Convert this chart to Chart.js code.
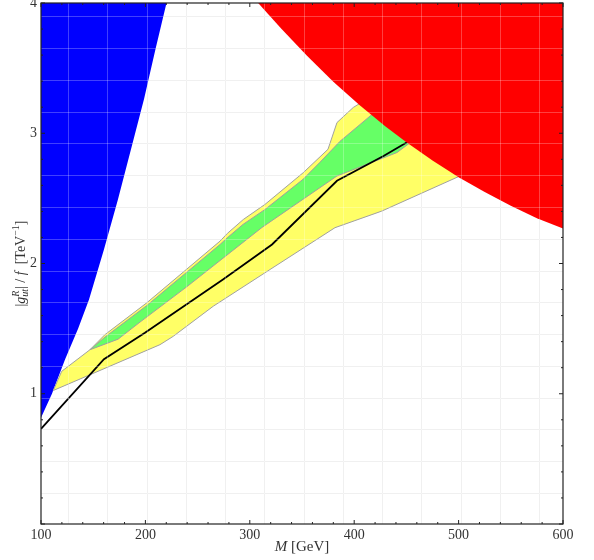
<!DOCTYPE html>
<html>
<head>
<meta charset="utf-8">
<script src="https://cdn.jsdelivr.net/npm/chart.js@4.4.1/dist/chart.umd.min.js"></script>
<style>
  body { margin: 0; background: #fff; }
  .wrap { width: 594px; height: 560px; }
</style>
</head>
<body>
<div class="wrap"><canvas id="chart"></canvas></div>
<script>
// axis ranges and tick labels
const xMin = 100, xMax = 600, yMin = 0, yMax = 4;
const xTicks = [100, 200, 300, 400, 500, 600];
const yTicks = [1, 2, 3, 4];

// light background mesh of the original plot
const meshX = [125.9, 163.5, 201.1, 238.7, 276.3, 313.9, 351.5, 389.1, 426.7, 464.3, 501.9, 539.5, 577.1];
const meshY = [0.238, 0.482, 0.726, 0.970, 1.214, 1.458, 1.702, 1.946, 2.190, 2.434, 2.678, 2.922, 3.166, 3.410, 3.654, 3.898];

// blue excluded region (left of this edge)
const blueX = [100, 110.5, 123.0, 135.5, 146.0, 160.3, 173.7, 186.2, 198.7, 209.7, 220.2];
const blueY = [0.815, 1.0, 1.262, 1.50, 1.723, 2.108, 2.492, 2.877, 3.262, 3.646, 4.0];

// red excluded region (above this edge)
const redX = [308, 330, 355, 380, 405, 430, 450, 475, 500, 525, 550, 575, 600];
const redY = [4.0, 3.805, 3.593, 3.396, 3.216, 3.051, 2.930, 2.791, 2.663, 2.548, 2.444, 2.348, 2.268];

// 2 sigma band (yellow)
const yellowUpX = [111.8, 119.8, 146.9, 161.3, 201.3, 271.5, 278.5, 293.8, 314.6, 351.3, 374.9, 383.5, 399.1, 424.7];
const yellowUpY = [1.025, 1.172, 1.338, 1.454, 1.698, 2.172, 2.231, 2.338, 2.454, 2.698, 2.877, 3.082, 3.198, 3.323];
const yellowLoX = [111.8, 214.0, 226.7, 265.0, 319.4, 381.6, 426.3, 501.3, 534.9];
const yellowLoY = [1.025, 1.377, 1.441, 1.672, 1.954, 2.275, 2.402, 2.672, 2.800];

// 1 sigma band (green)
const greenUpX = [146.9, 161.3, 201.3, 271.5, 278.2, 293.5, 314.6, 351.0, 367.2, 386.4, 415.1, 436.2];
const greenUpY = [1.338, 1.435, 1.677, 2.146, 2.196, 2.300, 2.415, 2.646, 2.777, 2.938, 3.131, 3.262];
const greenLoX = [146.9, 173.8, 194.8, 239.9, 311.7, 383.5, 441.0, 451.5, 472.6];
const greenLoY = [1.338, 1.419, 1.550, 1.823, 2.277, 2.672, 2.852, 2.915, 3.031];

// expected limit (black)
const medianX = [100, 160.3, 199.6, 274.3, 321.3, 383.5, 428.5, 450.6, 467.8];
const medianY = [0.731, 1.265, 1.469, 1.877, 2.146, 2.635, 2.827, 2.931, 3.008];

const SERIF = "'Liberation Serif', 'DejaVu Serif', serif";

function pts(xs, ys) {
  return xs.map((x, i) => ({ x: x, y: ys[i] }));
}

// closed outline: upper edge forward, lower edge back
function band(upX, upY, loX, loY) {
  const p = pts(upX, upY).concat(pts(loX, loY).reverse());
  p.push(p[0]);
  return p;
}

const bluePoly = [{ x: xMin, y: yMax }].concat(pts(blueX, blueY));
bluePoly.push({ x: xMin, y: yMax });
const redPoly = pts(redX, redY).concat([{ x: xMax, y: yMax }, { x: redX[0], y: redY[0] }]);

function drawMesh(chart, color) {
  const { ctx, chartArea: a, scales } = chart;
  ctx.save();
  ctx.beginPath();
  ctx.rect(a.left, a.top, a.right - a.left, a.bottom - a.top);
  ctx.clip();
  ctx.strokeStyle = color;
  ctx.lineWidth = 1;
  ctx.beginPath();
  meshX.forEach((v) => {
    const px = Math.round(scales.x.getPixelForValue(v)) + 0.5;
    ctx.moveTo(px, a.top);
    ctx.lineTo(px, a.bottom);
  });
  meshY.forEach((v) => {
    const py = Math.round(scales.y.getPixelForValue(v)) + 0.5;
    ctx.moveTo(a.left, py);
    ctx.lineTo(a.right, py);
  });
  ctx.stroke();
  ctx.restore();
}

// draws a run of text pieces: [text, font, dy, noAdvance]
function richText(ctx, pieces, cx, baseY) {
  let w = 0;
  pieces.forEach((p) => {
    ctx.font = p[1];
    p.w = p[3] ? 0 : ctx.measureText(p[0]).width;
    w += p.w;
  });
  let x = cx - w / 2;
  pieces.forEach((p) => {
    ctx.font = p[1];
    ctx.fillText(p[0], x, baseY + (p[2] || 0));
    x += p.w;
  });
}

const framePlugin = {
  id: "frame",
  beforeDatasetsDraw(chart) {
    drawMesh(chart, "#ebebeb");
  },
  afterDatasetsDraw(chart) {
    drawMesh(chart, "rgba(255,255,255,0.25)");
  },
  afterDraw(chart) {
    const { ctx, chartArea: a, scales } = chart;
    ctx.save();
    ctx.strokeStyle = "#222";
    ctx.lineWidth = 1.2;
    ctx.strokeRect(a.left, a.top, a.right - a.left, a.bottom - a.top);

    // inward ticks on all four sides
    ctx.lineWidth = 1;
    ctx.beginPath();
    for (let i = 0; i <= 25; i++) {
      const v = xMin + i * 20;
      const px = scales.x.getPixelForValue(v);
      const len = i % 5 === 0 ? 4 : 2;
      ctx.moveTo(px, a.bottom);
      ctx.lineTo(px, a.bottom - len);
      ctx.moveTo(px, a.top);
      ctx.lineTo(px, a.top + len);
    }
    for (let i = 0; i <= 20; i++) {
      const py = scales.y.getPixelForValue(yMin + i * 0.2);
      const len = i % 5 === 0 ? 4 : 2;
      ctx.moveTo(a.left, py);
      ctx.lineTo(a.left + len, py);
      ctx.moveTo(a.right, py);
      ctx.lineTo(a.right - len, py);
    }
    ctx.stroke();

    // axis titles
    ctx.fillStyle = "#333";
    ctx.textAlign = "left";
    ctx.textBaseline = "alphabetic";
    const f = "15px " + SERIF, fi = "italic 15px " + SERIF;
    const s = "10px " + SERIF, si = "italic 10px " + SERIF;
    richText(ctx, [["M", fi], [" [GeV]", f]], (a.left + a.right) / 2, 551);

    const f2 = "14px " + SERIF, fi2 = "italic 14px " + SERIF;
    ctx.translate(20, (a.top + a.bottom) / 2);
    ctx.rotate(-Math.PI / 2);
    richText(ctx, [
      ["|", f2], ["g", fi2], ["R", si, -6, true], ["ut", si, 3], ["|", f2],
      [" / ", f2], ["f", fi2], ["  [TeV", f2], ["\u22121", s, -6], ["]", f2]
    ], 0, 5);
    ctx.restore();
  }
};

new Chart(document.getElementById("chart"), {
  type: "line",
  data: {
    datasets: [
      {
        label: "red",
        data: redPoly,
        order: 0,
        fill: "shape",
        backgroundColor: "#ff0000",
        borderWidth: 0,
        pointRadius: 0
      },
      {
        label: "expected",
        data: pts(medianX, medianY),
        order: 1,
        fill: false,
        borderColor: "#000",
        borderWidth: 1.8,
        pointRadius: 0
      },
      {
        label: "1 sigma",
        data: band(greenUpX, greenUpY, greenLoX, greenLoY),
        order: 2,
        fill: "shape",
        backgroundColor: "#66ff66",
        borderColor: "#a0a0a0",
        borderWidth: 1,
        pointRadius: 0
      },
      {
        label: "2 sigma",
        data: band(yellowUpX, yellowUpY, yellowLoX, yellowLoY),
        order: 3,
        fill: "shape",
        backgroundColor: "#ffff66",
        borderColor: "#a0a0a0",
        borderWidth: 1,
        pointRadius: 0
      },
      {
        label: "blue",
        data: bluePoly,
        order: 4,
        fill: "shape",
        backgroundColor: "#0000ff",
        borderWidth: 0,
        pointRadius: 0
      }
    ]
  },
  options: {
    responsive: true,
    maintainAspectRatio: false,
    animation: false,
    layout: { padding: { top: 3, right: 31, left: 0, bottom: 0 } },
    plugins: {
      legend: { display: false },
      tooltip: { enabled: false }
    },
    scales: {
      x: {
        type: "linear",
        min: xMin,
        max: xMax,
        afterBuildTicks: (scale) => {
          scale.ticks = xTicks.map((v) => ({ value: v }));
        },
        afterFit: (scale) => {
          scale.height = 36;
          scale.paddingLeft = 0;
          scale.paddingRight = 0;
        },
        grid: { display: false, drawTicks: false },
        border: { display: false },
        ticks: {
          padding: 3,
          color: "#333",
          font: { family: SERIF, size: 14 }
        }
      },
      y: {
        type: "linear",
        min: yMin,
        max: yMax,
        afterBuildTicks: (scale) => {
          scale.ticks = yTicks.map((v) => ({ value: v }));
        },
        afterFit: (scale) => {
          scale.width = 41;
          scale.paddingTop = 0;
          scale.paddingBottom = 0;
        },
        grid: { display: false, drawTicks: false },
        border: { display: false },
        ticks: {
          padding: 4,
          color: "#333",
          font: { family: SERIF, size: 14 }
        }
      }
    }
  },
  plugins: [framePlugin]
});
</script>
</body>
</html>
